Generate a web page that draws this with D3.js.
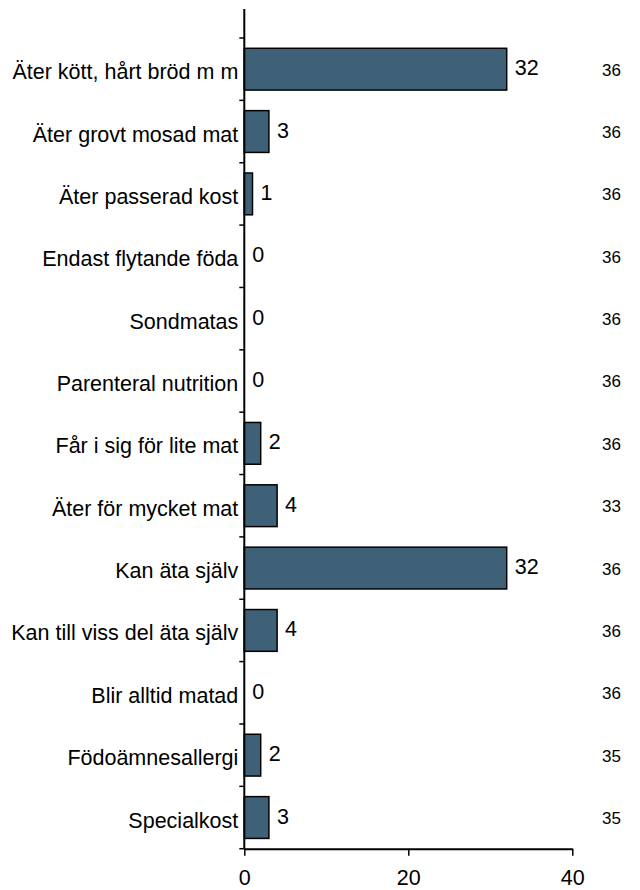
<!DOCTYPE html>
<html><head><meta charset="utf-8">
<script src="https://cdn.jsdelivr.net/npm/d3@7"></script>
<style>
html,body{margin:0;padding:0;background:#fff;}
svg{display:block;font-family:"Liberation Sans",Arial,sans-serif;}
</style></head>
<body>
<svg id="chart" width="640" height="890"></svg>
<script>
const categories = [
  "Äter kött, hårt bröd m m",
  "Äter grovt mosad mat",
  "Äter passerad kost",
  "Endast flytande föda",
  "Sondmatas",
  "Parenteral nutrition",
  "Får i sig för lite mat",
  "Äter för mycket mat",
  "Kan äta själv",
  "Kan till viss del äta själv",
  "Blir alltid matad",
  "Födoämnesallergi",
  "Specialkost"
];
const values = [32, 3, 1, 0, 0, 0, 2, 4, 32, 4, 0, 2, 3];
const totals = [36, 36, 36, 36, 36, 36, 36, 33, 36, 36, 36, 35, 35];
const xTicks = [0, 20, 40];

const svg = d3.select("#chart");
const x = d3.scaleLinear().domain([0, 40]).range([244.3, 572.3]);
const y = d3.scaleBand().domain(categories).range([38, 848.7]).paddingInner(0.33).paddingOuter(0.165);
const step = y.step();
const bw = y.bandwidth();
const rowCenter = d => y(d) + bw / 2;

// bars
svg.append("g").selectAll("rect").data(categories).join("rect")
  .attr("x", x(0))
  .attr("y", d => y(d))
  .attr("width", (d, i) => x(values[i]) - x(0))
  .attr("height", bw)
  .attr("fill", "#3f6177")
  .attr("stroke", "#000")
  .attr("stroke-width", 1.5);

// y axis line + boundary ticks
const yAxisG = svg.append("g");
yAxisG.append("line").attr("x1", x(0)).attr("x2", x(0)).attr("y1", 9).attr("y2", 848.7)
  .attr("stroke", "#000").attr("stroke-width", 2);
const bounds = d3.range(categories.length + 1).map(i => 38 + i * step);
yAxisG.selectAll("line.tick").data(bounds).join("line").attr("class", "tick")
  .attr("x1", x(0) - 5).attr("x2", x(0)).attr("y1", d => d).attr("y2", d => d)
  .attr("stroke", "#000").attr("stroke-width", 1.5);

// x axis
const xAxis = d3.axisBottom(x).tickValues(xTicks).tickSize(7).tickSizeOuter(0).tickPadding(14);
const xg = svg.append("g").attr("transform", "translate(0,848.7)").call(xAxis);
xg.select(".domain").attr("stroke", "#000").attr("stroke-width", 2);
xg.selectAll(".tick line").attr("stroke", "#000").attr("stroke-width", 1.5);
xg.selectAll(".tick text").attr("font-size", "21.5px").attr("fill", "#000")
  .attr("font-family", "'Liberation Sans',Arial,sans-serif");

// category labels
svg.append("g").selectAll("text").data(categories).join("text")
  .attr("x", x(0) - 6)
  .attr("y", d => rowCenter(d) + 3)
  .attr("text-anchor", "end")
  .attr("dominant-baseline", "central")
  .attr("font-size", "21.5px")
  .attr("fill", "#000")
  .text(d => d);

// value labels
svg.append("g").selectAll("text").data(categories).join("text")
  .attr("x", (d, i) => x(values[i]) + 8)
  .attr("y", d => rowCenter(d) - 1)
  .attr("dominant-baseline", "central")
  .attr("font-size", "21.5px")
  .attr("fill", "#000")
  .text((d, i) => values[i]);

// totals column
svg.append("g").selectAll("text").data(categories).join("text")
  .attr("x", 621)
  .attr("y", d => rowCenter(d) + 1)
  .attr("text-anchor", "end")
  .attr("dominant-baseline", "central")
  .attr("font-size", "17px")
  .attr("fill", "#000")
  .text((d, i) => totals[i]);
</script>
</body></html>
